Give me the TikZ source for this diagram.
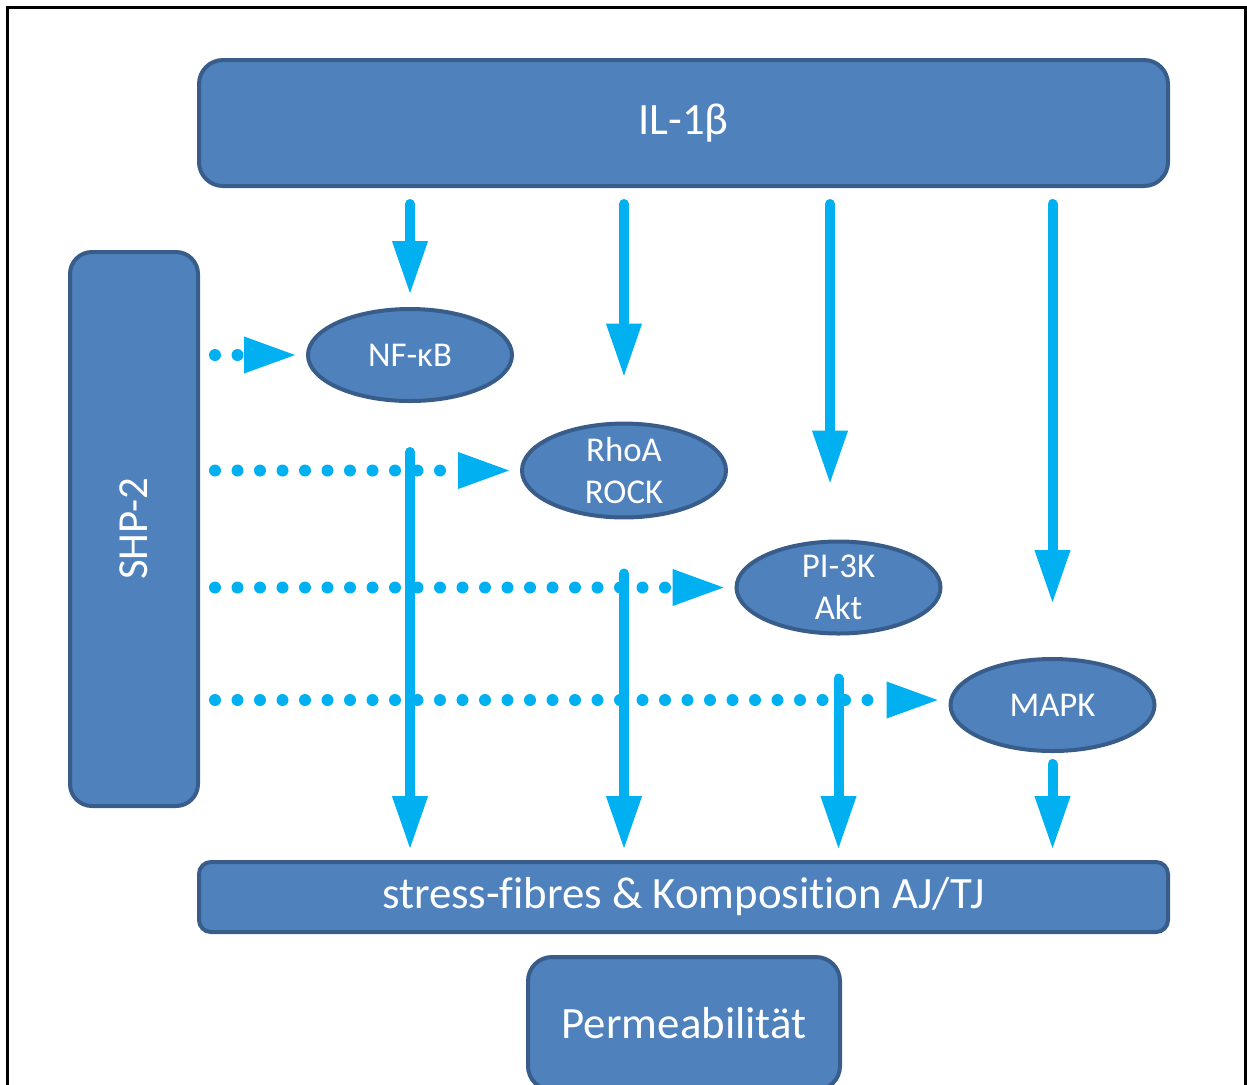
\documentclass[tikz,border=0pt]{standalone}
\usepackage{fontspec}
\setmainfont[Ligatures=NoCommon]{Carlito}
\usepackage{tikz}
\usetikzlibrary{arrows.meta,positioning,calc,shapes.geometric}
\definecolor{boxblue}{HTML}{4F81BD}
\definecolor{boxedge}{HTML}{385D8A}
\definecolor{signal}{HTML}{00B0F0}
\tikzset{
  pathbox/.style={draw=boxedge, line width=2pt, fill=boxblue, text=white,
    rounded corners=12pt, inner sep=0pt},
  kinase/.style={ellipse, draw=boxedge, line width=2pt, fill=boxblue, text=white,
    minimum width=102pt, minimum height=46pt, inner sep=0pt, align=center,
    font=\fontsize{17.4}{21}\selectfont},
  flow/.style={signal, line width=5pt, line cap=round,
    -{Triangle[length=27pt,width=16.5pt]}},
  inhib/.style={signal, line width=6pt, line cap=round, dash pattern=on 0pt off 11.25pt,
    -{Triangle[length=27pt,width=16.5pt]}}
}

\begin{document}
\begin{tikzpicture}[x=0.5pt,y=-0.5pt,font=\fontsize{22.4}{26}\selectfont]
\useasboundingbox (0,0) rectangle (1247,1084);
\draw[line width=1.5pt] (7.5,1100) -- (7.5,7.5) -- (1245.5,7.5) -- (1245.5,1100);

\node[pathbox, minimum width=484.5pt, minimum height=63pt] (il) at (683.5,123) {IL-1β};
\node[pathbox, rounded corners=11pt, minimum width=64pt, minimum height=277pt] (shp) at (134,529) {};
\node[rotate=90, text=white, font=\fontsize{21.4}{25}\selectfont] (shplabel) at (shp) {SHP-2};
\node[pathbox, rounded corners=6pt, minimum width=484.5pt, minimum height=35pt] (fibres) at (683.5,897) {stress-fibres \& Komposition AJ/TJ};
\node[pathbox, minimum width=156pt, minimum height=66.5pt] (perm) at (684,1023.5) {Permeabilität};

\node[kinase] (nfkb) at (410,355) {NF-κB};
\node[kinase] (rho) at (624,470.5) {RhoA\\ROCK};
\node[kinase] (pik) at (838.5,587.5) {PI-3K\\Akt};
\node[kinase] (mapk) at (1052.5,705) {MAPK};
\coordinate (mapkin) at ([yshift=2.5pt]mapk.west);

% IL-1beta activates
\draw[flow, shorten <=8pt, shorten >=6pt] (il.south -| nfkb) -- (nfkb.north);
\draw[flow, shorten <=8pt, shorten >=22pt] (il.south -| rho) -- (rho.north);
\draw[flow, shorten <=8pt, shorten >=27.5pt] ([xshift=-4.25pt]il.south -| pik) -- ([xshift=-4.25pt]pik.north);
\draw[flow, shorten <=8pt, shorten >=26.5pt] (il.south -| mapk) -- (mapk.north);

% to stress-fibres
\draw[flow, shorten <=24.5pt, shorten >=5pt] (nfkb.south) -- (fibres.north -| nfkb);
\draw[flow, shorten <=27pt, shorten >=5pt] (rho.south) -- (fibres.north -| rho);
\draw[flow, shorten <=21.5pt, shorten >=5pt] (pik.south) -- (fibres.north -| pik);
\draw[flow, shorten <=5.5pt, shorten >=5pt] (mapk.south) -- (fibres.north -| mapk);

% SHP-2
\draw[inhib, shorten <=7.5pt, shorten >=4pt] (shp.east |- nfkb) -- (nfkb.west);
\draw[inhib, shorten <=7.5pt, shorten >=4pt] (shp.east |- rho) -- (rho.west);
\draw[inhib, shorten <=7.5pt, shorten >=4pt] (shp.east |- pik) -- (pik.west);
\draw[inhib, shorten <=7.5pt, shorten >=4pt] (shp.east |- mapkin) -- (mapkin);
\end{tikzpicture}
\end{document}
